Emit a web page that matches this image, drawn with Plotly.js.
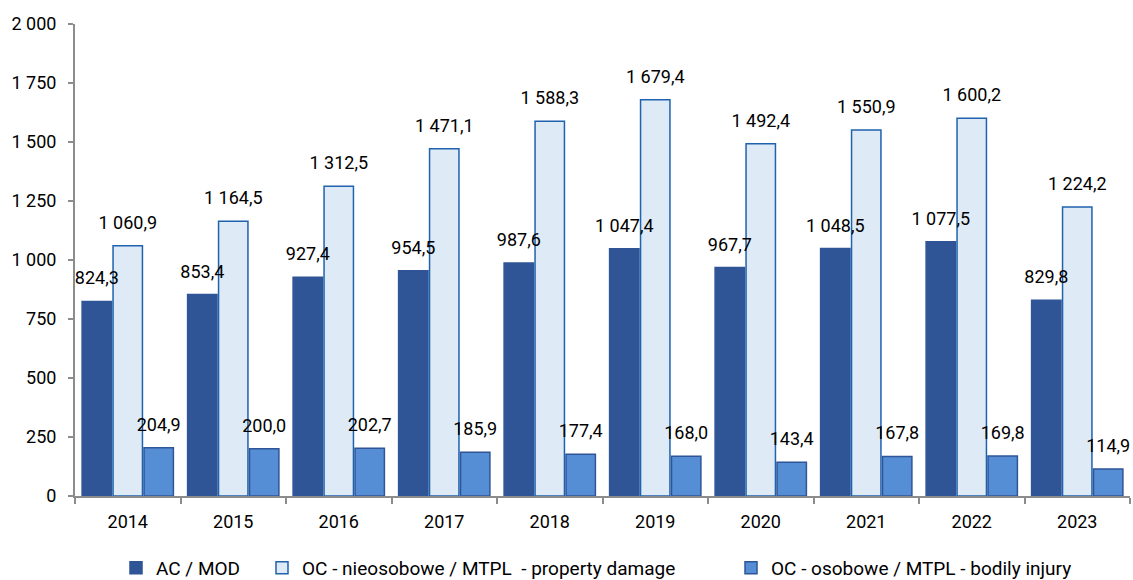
<!DOCTYPE html>
<html>
<head>
<meta charset="utf-8">
<script src="https://cdn.plot.ly/plotly-3.0.1.min.js"></script>
<style>html,body{margin:0;padding:0;background:#fff;}#chart{width:1133px;height:580px;}</style>
</head>
<body>
<div id="chart"></div>
<script>
const years = ['2014','2015','2016','2017','2018','2019','2020','2021','2022','2023'];
const acMod = [824.3, 853.4, 927.4, 954.5, 987.6, 1047.4, 967.7, 1048.5, 1077.5, 829.8];
const ocProperty = [1060.9, 1164.5, 1312.5, 1471.1, 1588.3, 1679.4, 1492.4, 1550.9, 1600.2, 1224.2];
const ocBodily = [204.9, 200.0, 202.7, 185.9, 177.4, 168.0, 143.4, 167.8, 169.8, 114.9];
const seriesNames = ['AC / MOD', 'OC - nieosobowe / MTPL  - property damage', 'OC - osobowe / MTPL - bodily injury'];
const yTicks = [0, 250, 500, 750, 1000, 1250, 1500, 1750, 2000];

const FONT = 'Roboto, "DejaVu Sans Condensed", sans-serif';
function mk(name, y, fill, line, legendId) {
  return {
    type: 'bar', name: name, x: years, y: y, legend: legendId,
    marker: {color: fill, line: {color: line, width: 1.5}},
    texttemplate: '%{y:,.1f}', textposition: 'outside',
    constraintext: 'none', cliponaxis: false,
    outsidetextfont: {family: FONT, size: 18, color: '#000'},
    hoverinfo: 'x+y'
  };
}
const data = [
  mk(seriesNames[0], acMod, '#2F5597', '#2F5597', 'legend'),
  mk(seriesNames[1], ocProperty, '#DEEBF7', '#1F62AE', 'legend2'),
  mk(seriesNames[2], ocBodily, '#558ED5', '#2F5597', 'legend3')
];
function leg(xpx) {
  return {orientation: 'h', xref: 'container', yref: 'container',
          x: xpx / 1133, xanchor: 'left', y: 12 / 580, yanchor: 'middle',
          font: {family: FONT, size: 19, color: '#000'}, itemwidth: 30,
          bgcolor: 'rgba(0,0,0,0)'};
}
const layout = {
  width: 1133, height: 580,
  margin: {l: 75, r: 3, t: 24, b: 84},
  separators: ', ',
  barmode: 'group', bargap: 0.12, bargroupgap: 0.05,
  font: {family: FONT, size: 18, color: '#000'},
  paper_bgcolor: '#fff', plot_bgcolor: '#fff',
  showlegend: true,
  legend: leg(116),
  legend2: leg(262),
  legend3: leg(731),
  xaxis: {type: 'category', showline: true, linecolor: '#8c8c8c', linewidth: 2,
          ticks: 'outside', tickson: 'boundaries', ticklen: 6, tickcolor: '#8c8c8c', tickwidth: 1.5,
          ticklabelstandoff: 8,
          showgrid: false, tickfont: {family: FONT, size: 18}},
  yaxis: {range: [0, 2000], tickvals: yTicks,
          tickformat: ',d', showline: true, linecolor: '#8c8c8c', linewidth: 2,
          ticks: 'outside', ticklen: 5, tickcolor: '#8c8c8c', tickwidth: 1.5,
          ticklabelstandoff: 8,
          showgrid: false, zeroline: false,
          tickfont: {family: FONT, size: 18}}
};
Plotly.newPlot('chart', data, layout, {displayModeBar: false}).then(function (gd) {
  // Bring value labels above all bars (as in the reference) and lift them a little.
  const layer = gd.querySelector('.barlayer');
  if (!layer) return;
  const g = document.createElementNS('http://www.w3.org/2000/svg', 'g');
  g.setAttribute('class', 'labels-top');
  layer.appendChild(g);
  gd.querySelectorAll('.barlayer text.bartext').forEach(function (t) {
    const tr = t.getAttribute('transform') || '';
    t.setAttribute('transform', 'translate(0,-10) ' + tr);
    g.appendChild(t);
  });
});
</script>
</body>
</html>
